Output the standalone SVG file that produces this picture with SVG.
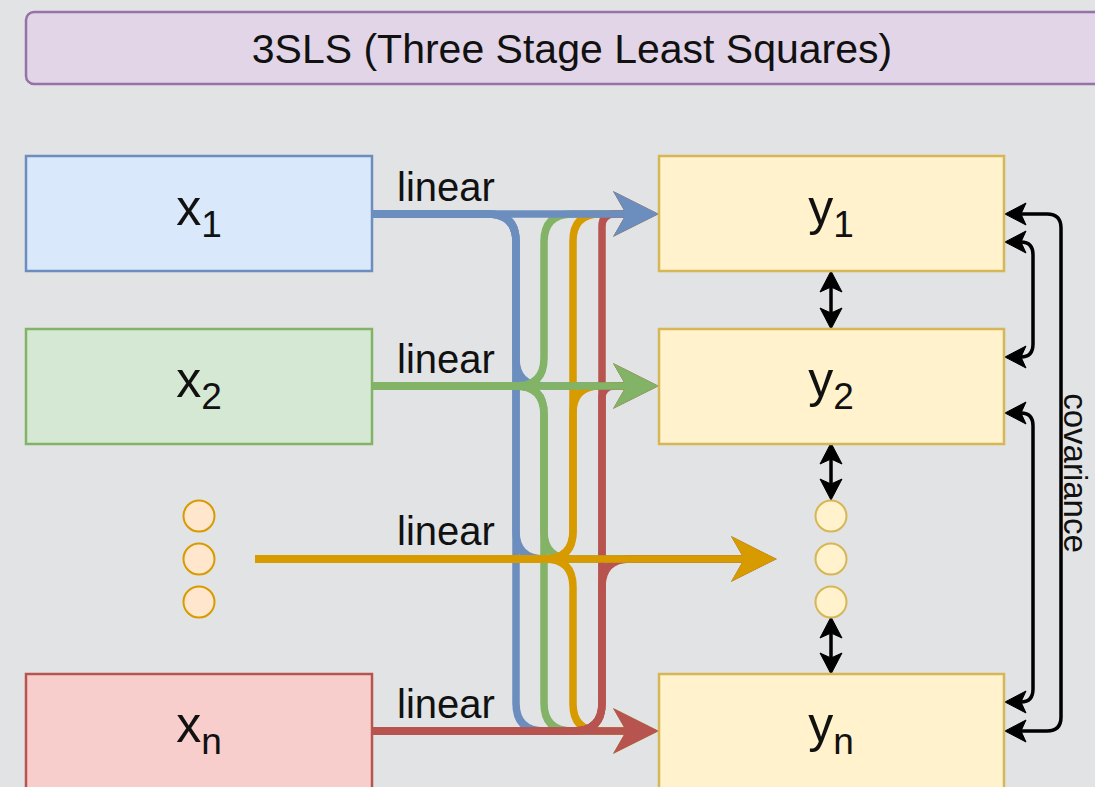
<svg xmlns="http://www.w3.org/2000/svg" width="1095" height="787" viewBox="0 0 1095 787">
  <style>
    .box { stroke-width: 2.5; }
    .lbl { font-family: "Liberation Sans", Arial, sans-serif; fill: #111; }
    .big { font-size: 50px; }
    .sub { font-size: 37px; }
    .edge { fill: none; stroke-width: 7.5; }
    .blue { stroke: #6c8ebf; marker-end: url(#ah-blue); }
    .green { stroke: #82b366; marker-end: url(#ah-green); }
    .orange { stroke: #d79b00; marker-end: url(#ah-orange); }
    .red { stroke: #b85450; marker-end: url(#ah-red); }
    .cov { fill: none; stroke: #000; stroke-width: 3.5; marker-start: url(#ah-black); marker-end: url(#ah-black); }
    .edge-lbl { font-family: "Liberation Sans", Arial, sans-serif; font-size: 40px; fill: #111; text-anchor: middle; }
  </style>
  <defs>
    <marker id="ah-blue" markerUnits="userSpaceOnUse" viewBox="-2 -24 48 48" markerWidth="48" markerHeight="48" refX="12" refY="0" orient="auto">
      <path d="M0,-21 L42,0 L0,21 L12,0 Z" fill="#6c8ebf" stroke="#6c8ebf" stroke-width="1.5"/>
    </marker>
    <marker id="ah-green" markerUnits="userSpaceOnUse" viewBox="-2 -24 48 48" markerWidth="48" markerHeight="48" refX="12" refY="0" orient="auto">
      <path d="M0,-21 L42,0 L0,21 L12,0 Z" fill="#82b366" stroke="#82b366" stroke-width="1.5"/>
    </marker>
    <marker id="ah-orange" markerUnits="userSpaceOnUse" viewBox="-2 -24 48 48" markerWidth="48" markerHeight="48" refX="12" refY="0" orient="auto">
      <path d="M0,-21 L42,0 L0,21 L12,0 Z" fill="#d79b00" stroke="#d79b00" stroke-width="1.5"/>
    </marker>
    <marker id="ah-red" markerUnits="userSpaceOnUse" viewBox="-2 -24 48 48" markerWidth="48" markerHeight="48" refX="12" refY="0" orient="auto">
      <path d="M0,-21 L42,0 L0,21 L12,0 Z" fill="#b85450" stroke="#b85450" stroke-width="1.5"/>
    </marker>
    <marker id="ah-black" markerUnits="userSpaceOnUse" viewBox="-2 -13 26 26" markerWidth="26" markerHeight="26" refX="5" refY="0" orient="auto-start-reverse">
      <path d="M0,-11 L21,0 L0,11 L5,0 Z" fill="#000" stroke="#000" stroke-width="1"/>
    </marker>
  </defs>

  <!-- canvas -->
  <rect x="0" y="0" width="1095" height="787" fill="#e2e3e5"/>

  <!-- title banner -->
  <g id="title">
    <rect x="26" y="12" width="1100" height="72" rx="8" fill="#e1d5e7" stroke="#9673a6" class="box"/>
    <text x="572" y="63" class="lbl" font-size="41" text-anchor="middle">3SLS (Three Stage Least Squares)</text>
  </g>

  <!-- connectors: cross edges first, straight edges on top -->
  <g id="connectors">
    <!-- from x1 (blue trunk) -->
    <path class="edge blue" d="M372,214 H488 Q516,214 516,242 V358 Q516,386 544,386 H627"/>
    <path class="edge blue" d="M372,214 H488 Q516,214 516,242 V531 Q516,559 544,559 H745"/>
    <path class="edge blue" d="M372,214 H488 Q516,214 516,242 V703 Q516,731 544,731 H627"/>
    <!-- from x2 (green trunk) -->
    <path class="edge green" d="M372,386 H516 Q544,386 544,358 V242 Q544,214 572,214 H627"/>
    <path class="edge green" d="M372,386 H516 Q544,386 544,414 V531 Q544,559 572,559 H745"/>
    <path class="edge green" d="M372,386 H516 Q544,386 544,414 V703 Q544,731 572,731 H627"/>
    <!-- from the middle inputs (orange trunk) -->
    <path class="edge orange" d="M255,559 H545 Q573,559 573,531 V241 Q573,214 600,214 H627"/>
    <path class="edge orange" d="M255,559 H545 Q573,559 573,531 V413 Q573,386 600,386 H627"/>
    <path class="edge orange" d="M255,559 H545 Q573,559 573,587 V704 Q573,731 600,731 H627"/>
    <!-- from xn (red trunk) -->
    <path class="edge red" d="M372,731 H574 Q602,731 602,703 V226.5 Q602,214 614.5,214 H627"/>
    <path class="edge red" d="M372,731 H574 Q602,731 602,703 V398.5 Q602,386 614.5,386 H627"/>
    <path class="edge red" d="M372,731 H574 Q602,731 602,703 V587 Q602,559 630,559 H745"/>

    <!-- straight edges -->
    <path class="edge blue" d="M372,214 H627"/>
    <path class="edge green" d="M372,386 H627"/>
    <path class="edge orange" d="M255,559 H745"/>
    <path class="edge red" d="M372,731 H627"/>

    <text x="446" y="201" class="edge-lbl">linear</text>
    <text x="446" y="373" class="edge-lbl">linear</text>
    <text x="446" y="545" class="edge-lbl">linear</text>
    <text x="446" y="718" class="edge-lbl">linear</text>

    <!-- neighbour links between outputs -->
    <path class="cov" d="M831,287 V313"/>
    <path class="cov" d="M831,459 V484"/>
    <path class="cov" d="M831,633 V658"/>

    <!-- covariance links on the right -->
    <path class="cov" d="M1021,214 H1047 Q1061,214 1061,228 V717 Q1061,731 1047,731 H1021"/>
    <path class="cov" d="M1021,242 Q1033,242 1033,255 V344 Q1033,357 1021,357"/>
    <path class="cov" d="M1021,413 Q1033,413 1033,426 V689 Q1033,702 1021,702"/>
    <text transform="translate(1064,473) rotate(90)" class="lbl" font-size="33" text-anchor="middle">covariance</text>
  </g>

  <!-- inputs -->
  <g id="x1">
    <rect x="26" y="156" width="346" height="115" fill="#dae8fc" stroke="#6c8ebf" class="box"/>
    <text x="199" y="225" class="lbl big" text-anchor="middle">x<tspan class="sub" dy="12">1</tspan></text>
  </g>
  <g id="x2">
    <rect x="26" y="329" width="346" height="115" fill="#d5e8d4" stroke="#82b366" class="box"/>
    <text x="199" y="397" class="lbl big" text-anchor="middle">x<tspan class="sub" dy="12">2</tspan></text>
  </g>
  <g id="x-more">
    <circle cx="199" cy="516" r="15.5" fill="#ffe6cc" stroke="#d79b00" stroke-width="2"/>
    <circle cx="199" cy="559" r="15.5" fill="#ffe6cc" stroke="#d79b00" stroke-width="2"/>
    <circle cx="199" cy="602" r="15.5" fill="#ffe6cc" stroke="#d79b00" stroke-width="2"/>
  </g>
  <g id="xn">
    <rect x="26" y="674" width="346" height="130" fill="#f8cecc" stroke="#b85450" class="box"/>
    <text x="199" y="742" class="lbl big" text-anchor="middle">x<tspan class="sub" dy="12">n</tspan></text>
  </g>

  <!-- outputs -->
  <g id="y1">
    <rect x="659" y="156" width="345" height="115" fill="#fff2cc" stroke="#d6b656" class="box"/>
    <text x="831" y="225" class="lbl big" text-anchor="middle">y<tspan class="sub" dy="12">1</tspan></text>
  </g>
  <g id="y2">
    <rect x="659" y="329" width="345" height="115" fill="#fff2cc" stroke="#d6b656" class="box"/>
    <text x="831" y="397" class="lbl big" text-anchor="middle">y<tspan class="sub" dy="12">2</tspan></text>
  </g>
  <g id="y-more">
    <circle cx="831" cy="516" r="15.5" fill="#fff2cc" stroke="#d6b656" stroke-width="2"/>
    <circle cx="831" cy="559" r="15.5" fill="#fff2cc" stroke="#d6b656" stroke-width="2"/>
    <circle cx="831" cy="602" r="15.5" fill="#fff2cc" stroke="#d6b656" stroke-width="2"/>
  </g>
  <g id="yn">
    <rect x="659" y="674" width="345" height="130" fill="#fff2cc" stroke="#d6b656" class="box"/>
    <text x="831" y="742" class="lbl big" text-anchor="middle">y<tspan class="sub" dy="12">n</tspan></text>
  </g>
</svg>
